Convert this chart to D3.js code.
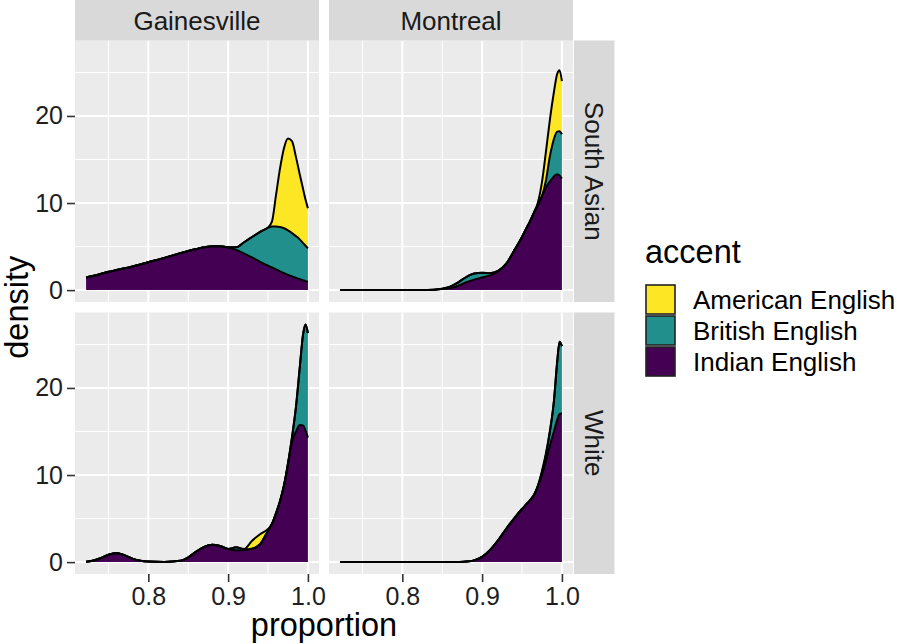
<!DOCTYPE html>
<html><head><meta charset="utf-8">
<script src="https://cdn.jsdelivr.net/npm/d3@7"></script>
<style>
body{margin:0;background:#fff}
text{font-family:"Liberation Sans",Arial,sans-serif}
</style>
</head><body>
<svg id="chart" width="897" height="644"></svg>
<script>
// ---------- data ----------
const proportion = [0.722,0.73,0.74,0.75,0.76,0.77,0.78,0.79,0.80,0.82,0.84,0.85,0.86,0.87,0.88,0.89,0.90,0.91,0.92,0.93,0.94,0.95,0.955,0.96,0.965,0.97,0.975,0.98,0.985,0.99,0.994,0.997,1.0];
const sites = ["Gainesville","Montreal"];
const ethnicities = ["South Asian","White"];
const accents = ["American English","British English","Indian English"];
const accentColors = ["#FDE725","#21908C","#440154"];
const xTicks = [0.8,0.9,1.0];
const xMinor = [0.75,0.85,0.95];
const yTicks = [0,10,20];
const yMinor = [5,15,25];

// density of each accent, per facet (site x ethnicity)
const gainesvilleSouthAsianIndian   = [1.46,1.62,1.85,2.1,2.3,2.5,2.72,2.95,3.2,3.7,4.25,4.5,4.72,4.92,5.05,5.05,4.9,4.62,4.2,3.75,3.25,2.8,2.6,2.38,2.15,1.95,1.75,1.58,1.4,1.25,1.12,1.03,0.96];
const gainesvilleSouthAsianBritish  = [0,0,0,0,0,0,0,0,0,0,0,0,0,0,0,0,0.02,0.3,1.3,2.35,3.45,4.35,4.7,4.92,5.1,5.15,5.1,4.97,4.8,4.55,4.28,4.07,3.84];
const gainesvilleSouthAsianAmerican = [0,0,0,0,0,0,0,0,0,0,0,0,0,0,0,0,0,0,0,0,0,0.05,0.6,3.6,6.7,9.2,10.55,10.55,9.1,7.4,6.2,5.3,4.6];

const montrealSouthAsianIndian   = [0,0,0,0,0,0,0,0,0,0.01,0.05,0.12,0.25,0.5,0.9,1.2,1.45,1.7,2.15,3.0,4.5,6.1,7.0,7.9,8.9,9.8,10.8,11.8,12.5,13.05,13.3,13.15,12.8];
const montrealSouthAsianBritish  = [0,0,0,0,0,0,0,0,0,0,0,0.03,0.15,0.4,0.6,0.7,0.55,0.25,0.05,0,0,0,0,0,0,0,0,0.8,2.9,4.3,4.9,5.1,5.1];
const montrealSouthAsianAmerican = [0,0,0,0,0,0,0,0,0,0,0,0,0,0,0,0,0,0,0,0,0,0,0,0,0,0.3,1.6,3.3,4.2,5.4,6.6,7.0,6.1];

const gainesvilleWhiteIndian   = [0.03,0.15,0.45,0.85,1.05,0.8,0.4,0.15,0.06,0.02,0.15,0.55,1.2,1.75,2.0,1.85,1.5,1.35,1.38,1.55,2.05,3.6,4.4,5.6,7.0,8.8,11.2,13.8,15.0,15.75,15.7,15.1,14.3];
const gainesvilleWhiteBritish  = [0,0,0,0,0,0,0,0,0,0,0,0,0,0,0,0,0.02,0.35,0.1,0,0,0,0,0,0,0,0.1,0.5,2.8,6.8,10.5,12.2,12.0];
const gainesvilleWhiteAmerican = [0,0,0,0,0,0,0,0,0,0,0,0,0,0,0,0,0,0,0.02,0.9,1.15,0.2,0,0,0,0,0,0,0,0,0,0,0];

const montrealWhiteIndian   = [0,0,0,0,0,0,0,0,0,0,0,0,0,0.02,0.06,0.2,0.6,1.4,2.5,3.8,5.0,6.1,6.6,7.1,7.7,8.7,10.0,11.6,13.4,15.0,16.3,17.0,17.1];
const montrealWhiteBritish  = [0,0,0,0,0,0,0,0,0,0,0,0,0,0,0,0,0,0,0,0,0,0,0,0,0,0.1,0.3,0.7,1.6,3.5,6.6,8.3,7.7];
const montrealWhiteAmerican = [0,0,0,0,0,0,0,0,0,0,0,0,0,0,0,0,0,0,0,0,0,0,0,0,0,0,0.15,0.2,0.1,0,0,0,0];

const facets = [
  {site:"Gainesville", eth:"South Asian", series:{"American English":gainesvilleSouthAsianAmerican,"British English":gainesvilleSouthAsianBritish,"Indian English":gainesvilleSouthAsianIndian}},
  {site:"Montreal",    eth:"South Asian", series:{"American English":montrealSouthAsianAmerican,"British English":montrealSouthAsianBritish,"Indian English":montrealSouthAsianIndian}},
  {site:"Gainesville", eth:"White",       series:{"American English":gainesvilleWhiteAmerican,"British English":gainesvilleWhiteBritish,"Indian English":gainesvilleWhiteIndian}},
  {site:"Montreal",    eth:"White",       series:{"American English":montrealWhiteAmerican,"British English":montrealWhiteBritish,"Indian English":montrealWhiteIndian}}
];

// ---------- layout ----------
const svg = d3.select("#chart");
const panelW = 244, panelH = 261.5;
const colX = {"Gainesville":75, "Montreal":329};
const rowY = {"South Asian":40.5, "White":312.5};
const stripH = 40.5, stripW = 40.5;
const color = d3.scaleOrdinal().domain(accents).range(accentColors);
const stackKeys = ["Indian English","British English","American English"];

facets.forEach(f => {
  const rows = proportion.map((p,i) => {
    const r = {p};
    accents.forEach(a => r[a] = f.series[a][i]);
    return r;
  });
  f.stacked = d3.stack().keys(stackKeys)(rows);
});
const xmin = d3.min(proportion), xmax = d3.max(proportion);
const xpad = (xmax - xmin) * 0.05;
const ymax = d3.max(facets, f => d3.max(f.stacked[f.stacked.length-1], d => d[1]));
const x = d3.scaleLinear().domain([xmin - xpad, xmax + xpad]).range([0, panelW]);
const y = d3.scaleLinear().domain([-0.05*ymax, 1.05*ymax]).range([panelH, 0]);

const area = d3.area().x(d => x(d.data.p)).y0(d => y(d[0])).y1(d => y(d[1])).curve(d3.curveMonotoneX);
const line = d3.line().x(d => x(d.data.p)).y(d => y(d[1])).curve(d3.curveMonotoneX);

facets.forEach(f => {
  const g = svg.append("g").attr("transform", `translate(${colX[f.site]},${rowY[f.eth]})`);
  g.append("rect").attr("width", panelW).attr("height", panelH).attr("fill", "#EBEBEB");
  g.selectAll(".xm").data(xMinor).join("line").attr("x1", d=>x(d)).attr("x2", d=>x(d)).attr("y1",0).attr("y2",panelH).attr("stroke","#fff").attr("stroke-width",1);
  g.selectAll(".ym").data(yMinor).join("line").attr("y1", d=>y(d)).attr("y2", d=>y(d)).attr("x1",0).attr("x2",panelW).attr("stroke","#fff").attr("stroke-width",1);
  g.selectAll(".xM").data(xTicks).join("line").attr("x1", d=>x(d)).attr("x2", d=>x(d)).attr("y1",0).attr("y2",panelH).attr("stroke","#fff").attr("stroke-width",2);
  g.selectAll(".yM").data(yTicks).join("line").attr("y1", d=>y(d)).attr("y2", d=>y(d)).attr("x1",0).attr("x2",panelW).attr("stroke","#fff").attr("stroke-width",2);
  f.stacked.forEach(s => {
    g.append("path").datum(s).attr("d", area).attr("fill", color(s.key));
  });
  f.stacked.forEach(s => {
    g.append("path").datum(s).attr("d", line).attr("fill","none").attr("stroke","#000").attr("stroke-width",2).attr("stroke-linejoin","round");
  });
});

// top strips
sites.forEach(s => {
  svg.append("rect").attr("x", colX[s]).attr("y", 0).attr("width", panelW).attr("height", stripH).attr("fill", "#D9D9D9");
  svg.append("text").attr("x", colX[s] + panelW/2).attr("y", 29.5).attr("text-anchor","middle").attr("font-size",26).attr("fill","#1A1A1A").text(s);
});
// right strips
ethnicities.forEach(e => {
  const sx = colX["Montreal"] + panelW + 1;
  svg.append("rect").attr("x", sx).attr("y", rowY[e]).attr("width", stripW).attr("height", panelH).attr("fill", "#D9D9D9");
  svg.append("text").attr("transform", `translate(${sx + stripW/2},${rowY[e] + panelH/2}) rotate(90)`)
    .attr("text-anchor","middle").attr("dy","0.35em").attr("font-size",26).attr("fill","#1A1A1A").text(e);
});

// axes
function styleAxis(g){
  g.select(".domain").remove();
  g.selectAll(".tick line").attr("stroke","#333").attr("stroke-width",1.6);
  g.selectAll(".tick text").attr("font-size",25).attr("fill","#1E1E1E").attr("font-family",'"Liberation Sans",Arial,sans-serif');
}
ethnicities.forEach(e => {
  svg.append("g").attr("transform", `translate(${colX["Gainesville"]},${rowY[e]})`)
    .call(d3.axisLeft(y).tickValues(yTicks).tickSize(8).tickPadding(4).tickFormat(d3.format("d")))
    .call(styleAxis);
});
sites.forEach(s => {
  svg.append("g").attr("transform", `translate(${colX[s]},${rowY["White"] + panelH})`)
    .call(d3.axisBottom(x).tickValues(xTicks).tickSize(8).tickPadding(5).tickFormat(d3.format(".1f")))
    .call(styleAxis);
});

// axis titles
svg.append("text").attr("x", (colX["Gainesville"] + colX["Montreal"] + panelW)/2).attr("y", 636)
  .attr("text-anchor","middle").attr("font-size",32.5).attr("fill","#000").text("proportion");
svg.append("text").attr("transform", `translate(28,${(rowY["South Asian"] + rowY["White"] + panelH)/2}) rotate(-90)`)
  .attr("text-anchor","middle").attr("font-size",32.5).attr("fill","#000").text("density");

// legend
const lg = svg.append("g").attr("transform","translate(645,0)");
lg.append("text").attr("x",0).attr("y",262.5).attr("font-size",32.5).attr("fill","#000").text("accent");
accents.forEach((a,i) => {
  const ky = 284 + i*31;
  lg.append("rect").attr("x",1).attr("y",ky+1).attr("width",29).attr("height",29)
    .attr("fill", color(a)).attr("stroke","#222").attr("stroke-width",1.6);
  lg.append("text").attr("x",48).attr("y",ky + 15.5).attr("dy","0.35em").attr("font-size",26).attr("fill","#000").text(a);
});
</script>
</body></html>
